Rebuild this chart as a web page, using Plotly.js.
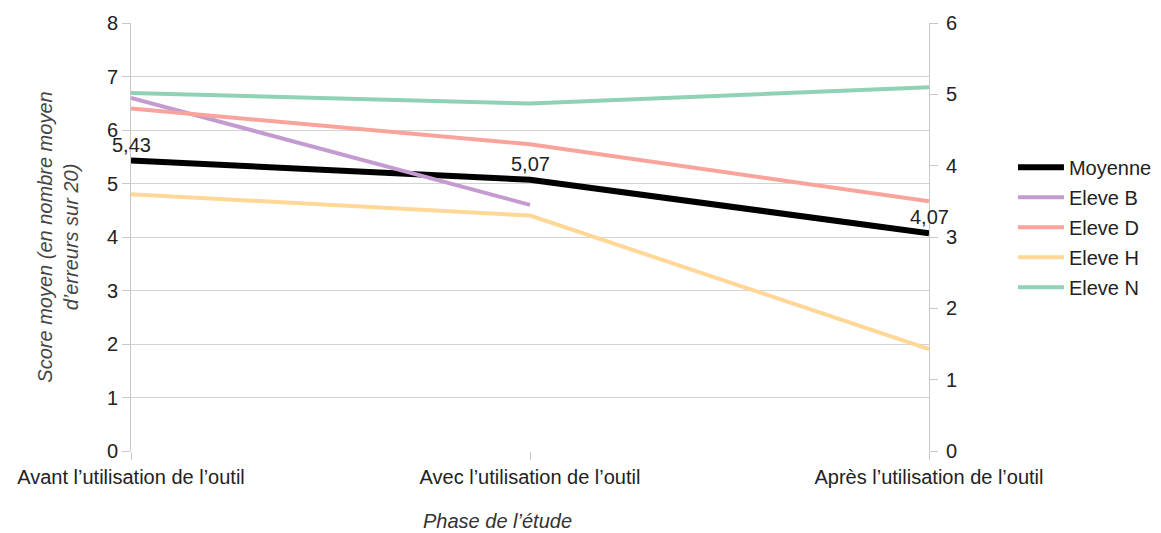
<!DOCTYPE html>
<html>
<head>
<meta charset="utf-8">
<script src="https://cdn.plot.ly/plotly-3.0.1.min.js"></script>
<style>html,body{margin:0;padding:0;background:#fff;}#chart{width:1161px;height:533px;}</style>
</head>
<body>
<div id="chart"></div>
<script>
const phases = ["Avant l’utilisation de l’outil", "Avec l’utilisation de l’outil", "Après l’utilisation de l’outil"];
const moyenne = [5.43, 5.07, 4.07];
const moyenneLabels = ["5,43", "5,07", "4,07"];
const eleveB = [4.95, 3.45, null];
const eleveD = [4.8, 4.3, 3.5];
const eleveH = [3.6, 3.3, 1.43];
const eleveN = [5.02, 4.87, 5.1];

const font = "Liberation Sans, Arial, sans-serif";
const fs = 20;
const traces = [
  {x: phases, y: moyenne, name: "Moyenne", mode: "lines", line: {color: "#000000", width: 6}, legendgroup: "a", yaxis: "y"},
  {x: phases, y: eleveB, name: "Eleve B", mode: "lines", line: {color: "#c49bd1", width: 4}, legendgroup: "b", yaxis: "y2"},
  {x: phases, y: eleveD, name: "Eleve D", mode: "lines", line: {color: "#f8a39b", width: 4}, legendgroup: "c", yaxis: "y2"},
  {x: phases, y: eleveH, name: "Eleve H", mode: "lines", line: {color: "#ffd797", width: 4}, legendgroup: "d", yaxis: "y2"},
  {x: phases, y: eleveN, name: "Eleve N", mode: "lines", line: {color: "#8fd2b5", width: 4}, legendgroup: "e", yaxis: "y2"}
];

const labelAnnotations = moyenne.map((v, i) => ({
  x: phases[i], y: v, xref: "x", yref: "y", text: moyenneLabels[i], showarrow: false,
  xanchor: "center", yanchor: "bottom", yshift: 3,
  font: {family: font, size: fs, color: "#222"}
}));

const layout = {
  width: 1161, height: 533,
  margin: {l: 131, r: 232, t: 23, b: 82, autoexpand: false},
  paper_bgcolor: "#ffffff", plot_bgcolor: "#ffffff",
  font: {family: font, size: fs, color: "#222"},
  showlegend: true,
  legend: {x: 1.1052, xanchor: "left", y: 0.523, yanchor: "middle",
           font: {family: font, size: fs, color: "#222"}, tracegroupgap: 1,
           itemwidth: 46, bgcolor: "rgba(0,0,0,0)", borderwidth: 0},
  xaxis: {type: "category", range: [0, 2], showgrid: false, zeroline: false,
          showline: false, ticks: "outside", ticklen: 8, tickcolor: "#c8c8c8",
          tickfont: {family: font, size: fs, color: "#222"}, fixedrange: true},
  yaxis: {range: [0, 8], dtick: 1, showgrid: true, gridcolor: "#d3d3d3", gridwidth: 1,
          zeroline: false, showline: true, linecolor: "#c8c8c8", linewidth: 1,
          ticks: "outside", ticklen: 8, tickcolor: "#c8c8c8",
          tickfont: {family: font, size: fs, color: "#222"},
          title: {text: "<i>Score moyen (en nombre moyen<br>d’erreurs sur 20)</i>",
                  font: {family: font, size: fs, color: "#444"}, standoff: 22}},
  yaxis2: {range: [0, 6], dtick: 1, overlaying: "y", side: "right", showgrid: false,
           zeroline: false, showline: true, linecolor: "#c8c8c8", linewidth: 1,
           ticks: "outside", ticklen: 8, tickcolor: "#c8c8c8", ticklabelstandoff: 4,
           tickfont: {family: font, size: fs, color: "#222"}},
  annotations: labelAnnotations.concat([{text: "<i>Phase de l’étude</i>", xref: "paper", yref: "paper",
                 x: 0.459, y: -0.164, xanchor: "center", yanchor: "middle", showarrow: false,
                 font: {family: font, size: fs, color: "#333"}}])
};

Plotly.newPlot("chart", traces, layout, {displayModeBar: false, staticPlot: true});
</script>
</body>
</html>
